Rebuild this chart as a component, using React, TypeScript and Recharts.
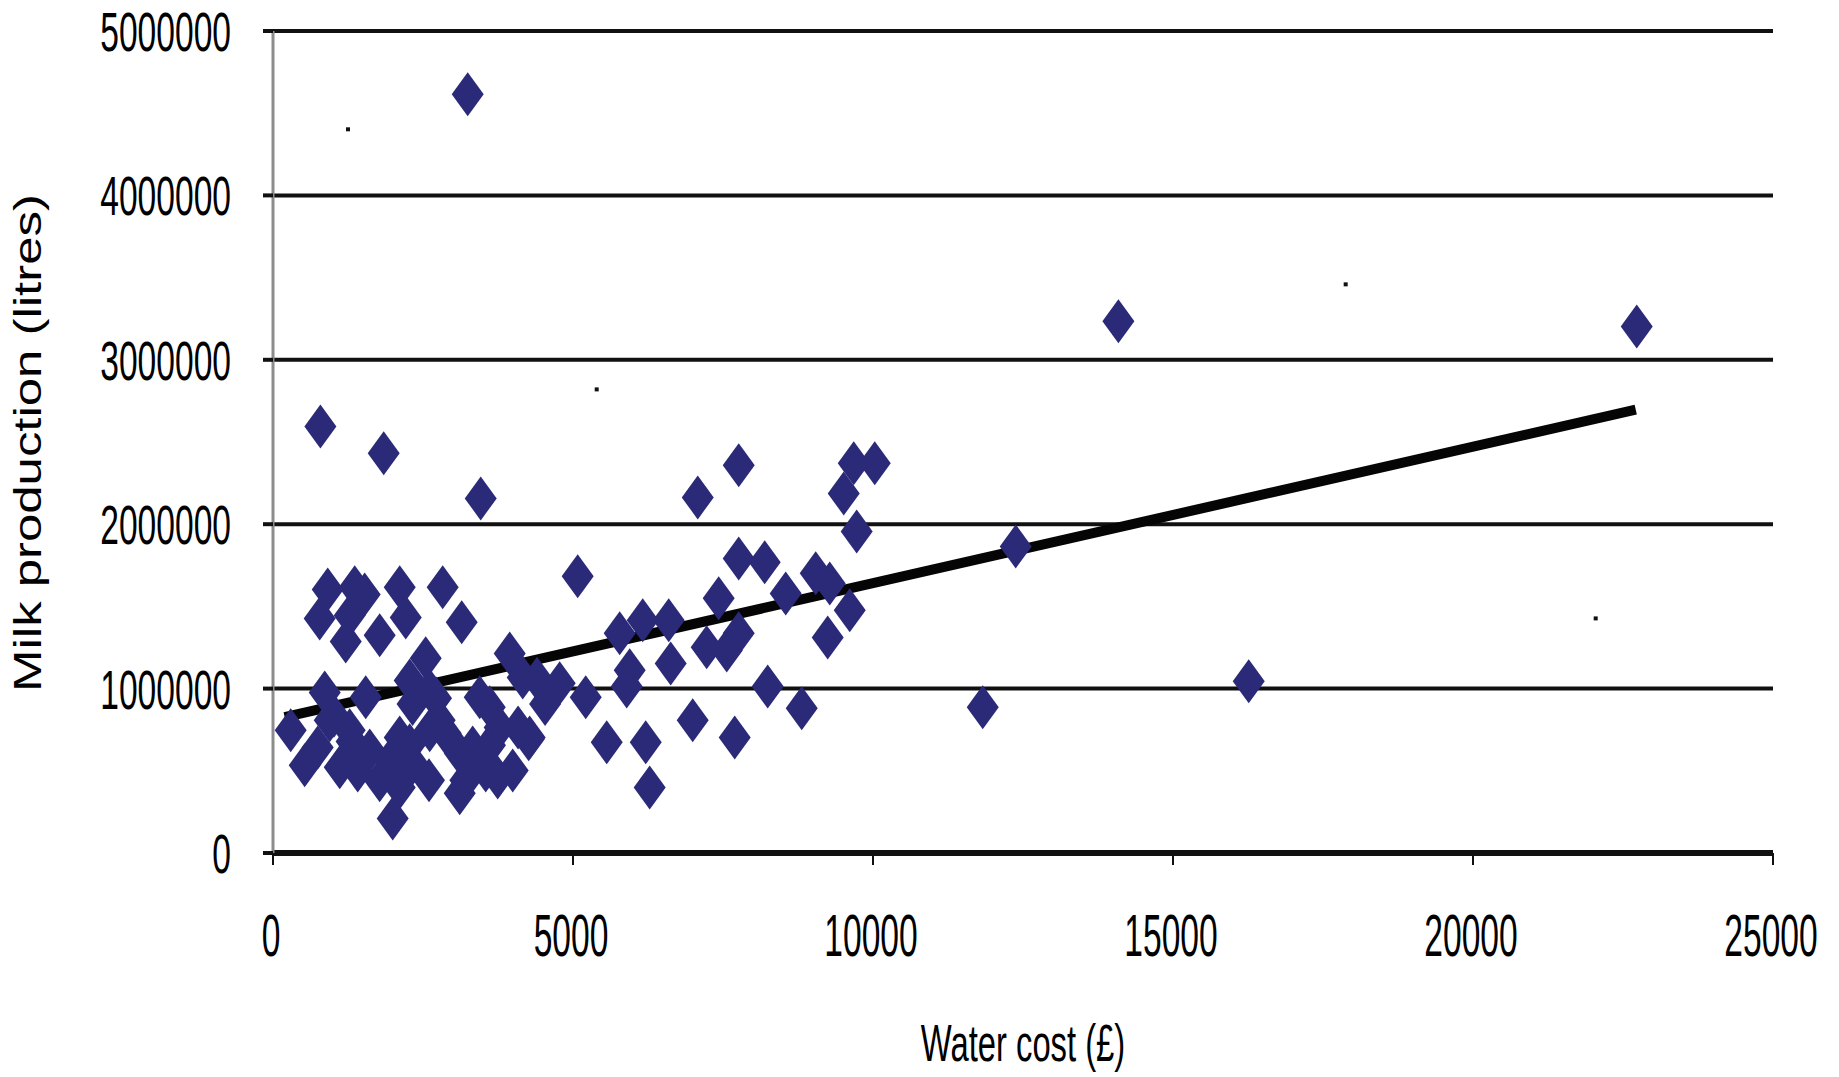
import React from 'react';
import { ScatterChart, Scatter, XAxis, YAxis, CartesianGrid, ReferenceLine, Label } from 'recharts';

// water cost (£) and milk production (litres) per farm
const waterCost = [
  790, 1845, 3462, 3245, 14090, 22729, 16262, 11829, 12379, 7079,
  7762, 9679, 10029, 9512, 9728, 5078, 912, 1362, 1528, 2112,
  2828, 3145, 778, 1212, 1778, 2212, 7762, 8195, 9045, 9279,
  8545, 9612, 7428, 9245, 7762, 7228, 6628, 5778, 6162, 6595,
  5945, 3945, 4162, 4778, 5212, 7562, 2545, 862, 1545, 2612,
  2278, 3445, 8245, 8812, 6995, 3612, 295, 528, 745, 945,
  1112, 1412, 1278, 2112, 1945, 2328, 2112, 1995, 2612, 2878,
  3112, 3112, 3328, 3545, 2778, 3778, 4278, 3995, 3745, 5562,
  6212, 6278, 7695, 1778, 2278, 1612, 1278, 4400, 5895, 1310,
  2326, 2717, 2170, 2600, 3206, 3616, 4085, 4261, 1016, 4535,
];
const milkLitres = [
  2595000, 2431000, 2157000, 4615000, 3234000, 3203000, 1044000, 886000, 1865000, 2163000,
  2358000, 2370000, 2370000, 2187000, 1956000, 1683000, 1603000, 1616000, 1573000, 1616000,
  1616000, 1403000, 1427000, 1287000, 1324000, 1433000, 1792000, 1768000, 1701000, 1640000,
  1579000, 1476000, 1549000, 1311000, 1336000, 1251000, 1153000, 1336000, 1415000, 1415000,
  1111000, 1214000, 1068000, 1032000, 947000, 1232000, 1184000, 977000, 947000, 989000,
  1050000, 947000, 1013000, 880000, 807000, 886000, 746000, 533000, 642000, 807000,
  521000, 502000, 746000, 703000, 563000, 545000, 399000, 210000, 746000, 728000,
  606000, 363000, 642000, 502000, 807000, 764000, 703000, 502000, 460000, 673000,
  673000, 399000, 703000, 442000, 655000, 624000, 1445000, 1060000, 1013000, 678000,
  906000, 942000, 549000, 442000, 442000, 656000, 763000, 692000, 835000, 906000,
];

// stray specks in the original figure
const speckX = [1250, 5395, 17878, 22045];
const speckY = [4402000, 2820000, 3459000, 1427000];

// fitted trend line ends
const trendX = [195, 22712];
const trendY = [827000, 2696600];

const xTicks = [0, 5000, 10000, 15000, 20000, 25000];
const yTicks = [0, 1000000, 2000000, 3000000, 4000000, 5000000];

const farms = waterCost.map((x, i) => ({ x, y: milkLitres[i] }));
const specks = speckX.map((x, i) => ({ x, y: speckY[i] }));

const FONT = '"Liberation Sans", Arial, sans-serif';

const Diamond = (props: any) => {
  const { cx, cy } = props;
  return (
    <polygon
      points={`${cx},${cy - 22} ${cx + 16},${cy} ${cx},${cy + 22} ${cx - 16},${cy}`}
      fill="#2a2a78"
    />
  );
};

const Speck = (props: any) => <rect x={props.cx - 2} y={props.cy - 2} width={4} height={4} fill="#111" />;

const YTick = (props: any) => (
  <text
    transform={`translate(231, ${props.y + 20}) scale(0.6, 1)`}
    textAnchor="end"
    fontSize={56}
    fontFamily={FONT}
    fill="#000"
  >
    {props.payload.value}
  </text>
);

const XTick = (props: any) => (
  <text
    transform={`translate(${props.x - 2}, 956) scale(0.56, 1)`}
    textAnchor="middle"
    fontSize={60}
    fontFamily={FONT}
    fill="#000"
  >
    {props.payload.value}
  </text>
);

const XTitle = () => (
  <text transform="translate(1023, 1061) scale(0.63, 1)" textAnchor="middle" fontSize={52} fontFamily={FONT} fill="#000">
    Water cost (£)
  </text>
);

const YTitle = () => (
  <text transform="translate(41, 443) rotate(-90) scale(1.34, 1)" textAnchor="middle" fontSize={38} fontFamily={FONT} fill="#000">
    Milk production (litres)
  </text>
);

export default function App() {
  return (
    <div style={{ position: 'fixed', left: 0, top: 0, width: 1839, height: 1077, background: '#fff' }}>
      <ScatterChart width={1839} height={1077} margin={{ top: 31, right: 66, bottom: 0, left: 0 }}>
        <CartesianGrid horizontal vertical={false} stroke="#111" strokeWidth={4} />
        <XAxis
          type="number"
          dataKey="x"
          domain={[0, 25000]}
          ticks={xTicks}
          interval={0}
          height={224}
          tickSize={12}
          tickLine={{ stroke: '#111', strokeWidth: 2 }}
          axisLine={{ stroke: '#111', strokeWidth: 6 }}
          tick={<XTick />}
        >
          <Label content={<XTitle />} />
        </XAxis>
        <YAxis
          type="number"
          dataKey="y"
          domain={[0, 5000000]}
          ticks={yTicks}
          interval={0}
          width={273}
          tickSize={10}
          tickLine={{ stroke: '#111', strokeWidth: 4 }}
          axisLine={{ stroke: '#8c8c8c', strokeWidth: 3 }}
          tick={<YTick />}
        >
          <Label content={<YTitle />} />
        </YAxis>
        <Scatter data={farms} shape={<Diamond />} isAnimationActive={false} />
        <Scatter data={specks} shape={<Speck />} isAnimationActive={false} />
        <ReferenceLine
          segment={[
            { x: trendX[0], y: trendY[0] },
            { x: trendX[1], y: trendY[1] },
          ]}
          stroke="#050505"
          strokeWidth={10}
        />
      </ScatterChart>
    </div>
  );
}
